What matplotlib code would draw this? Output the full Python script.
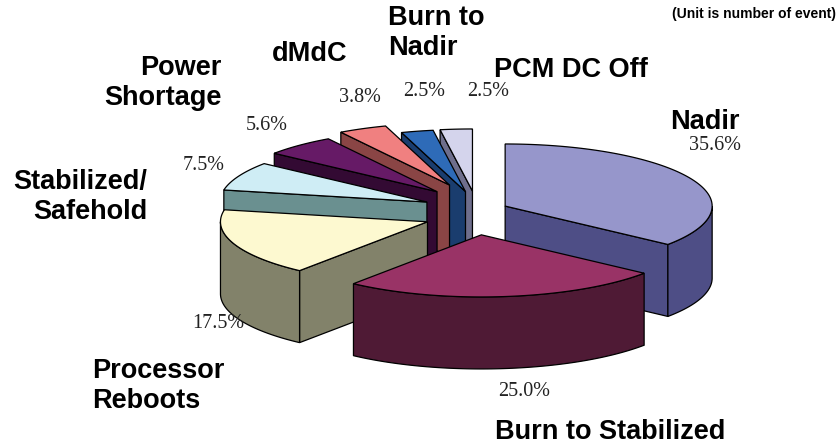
import numpy as np
import matplotlib
matplotlib.use("Agg")
import matplotlib.pyplot as plt
from matplotlib.patches import Polygon

# event counts per safe-mode cause, in percent
causes = ["Nadir", "Burn to Stabilized", "Processor\nReboots", "Stabilized/\nSafehold",
          "Power\nShortage", "dMdC", "Burn to\nNadir", "PCM DC Off"]
shares = [35.6, 25.0, 17.5, 7.5, 5.6, 3.8, 2.5, 2.5]
top_colors = ["#9696CB", "#993366", "#FDF9D0", "#CFEDF5",
              "#661A66", "#F08080", "#2E6BB8", "#D4D4EC"]
side_colors = ["#4E4E86", "#4F1A35", "#82826A", "#6A9090",
               "#330A33", "#8A4545", "#1A3D6E", "#6E6E8C"]
explode = [0.72, 1.0, 1.15, 1.2, 1.3, 1.4, 1.0, 1.0]

# label placement (pixel coords, y down)
name_pos = [(705, 122, "center"), (610, 432, "center"), (92, 386, "left"),
            (147, 197, "right"), (222, 83, "right"), (310, 54, "center"),
            (388, 33, "left"), (571, 70, "center")]
pct_pos = [(715, 146), (524, 392), (218, 323), (204, 165),
           (267, 126), (360, 98), (424, 92), (488, 92)]

# pie geometry
cx, cy = 476, 213
rad = 207
tilt = 0.30
depth = 72
ex, ey = 45, 22

fig = plt.figure(figsize=(8.39, 4.46), dpi=100)
ax = fig.add_axes([0, 0, 1, 1])
ax.set_xlim(0, 839)
ax.set_ylim(446, 0)
ax.axis("off")


def rim(x0, y0, ang, dz=0.0):
    a = np.radians(ang)
    return x0 + rad * np.cos(a), y0 - rad * tilt * np.sin(a) + dz


slices = []
cum = 0.0
for i, v in enumerate(shares):
    start = 90 - cum * 3.6
    end = start - v * 3.6
    cum += v
    mid = np.radians((start + end) / 2)
    ox = cx + explode[i] * ex * np.cos(mid)
    oy = cy - explode[i] * ey * np.sin(mid)
    slices.append((np.sin(mid), i, end, start, ox, oy))

# back slices first
slices.sort(key=lambda s: -s[0])

z = 1
for _, i, a1, a2, ox, oy in slices:
    lw = 0.9
    # radial faces turned toward the viewer
    for ang, vis in ((a1, np.cos(np.radians(a1)) > 1e-6),
                     (a2, np.cos(np.radians(a2)) < -1e-6)):
        if vis:
            rx, ry = rim(ox, oy, ang)
            quad = [(ox, oy), (rx, ry), (rx, ry + depth), (ox, oy + depth)]
            ax.add_patch(Polygon(quad, closed=True, fc=side_colors[i],
                                 ec="black", lw=lw, zorder=z))
    # front part of the curved wall
    for n in range(-2, 3):
        s = max(a1, -180 + 360 * n)
        e = min(a2, 360 * n)
        if e > s:
            t = np.linspace(s, e, 80)
            xs, ys = rim(ox, oy, t)
            pts = np.column_stack([np.r_[xs, xs[::-1]],
                                   np.r_[ys, ys[::-1] + depth]])
            ax.add_patch(Polygon(pts, closed=True, fc=side_colors[i],
                                 ec="black", lw=lw, zorder=z))
    # top face
    t = np.linspace(a1, a2, 120)
    xs, ys = rim(ox, oy, t)
    pts = np.column_stack([np.r_[ox, xs], np.r_[oy, ys]])
    ax.add_patch(Polygon(pts, closed=True, fc=top_colors[i],
                         ec="black", lw=lw, zorder=z + 0.5))
    z += 1

for name, (x, y, ha) in zip(causes, name_pos):
    ax.text(x, y, name, ha=ha, va="center", multialignment=ha,
            fontsize=19.5, fontweight="bold", family="Liberation Sans",
            zorder=50)

for v, (x, y) in zip(shares, pct_pos):
    ax.text(x, y, f"{v:.1f}%", ha="center", va="center", fontsize=14.5,
            family="Liberation Serif", color="#222222", zorder=50)

ax.text(836, 14, "(Unit is number of event)", ha="right", va="center",
        fontsize=10, fontweight="bold", family="Liberation Sans")

fig.savefig("out.png", dpi=100)
